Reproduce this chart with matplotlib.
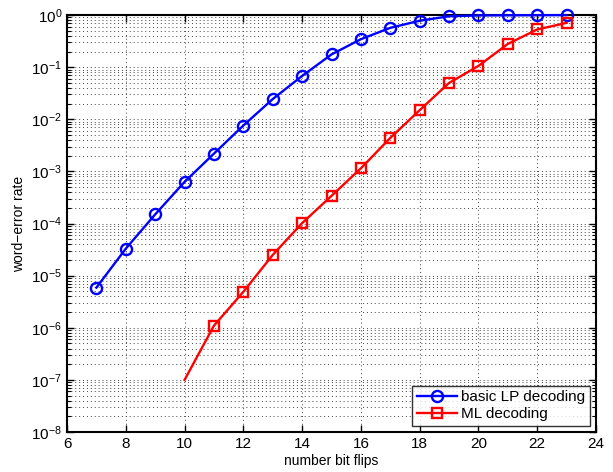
import matplotlib
matplotlib.use("Agg")
import matplotlib.pyplot as plt
from matplotlib.ticker import LogLocator, LogFormatterMathtext, NullFormatter, MultipleLocator

plt.rcParams['font.family'] = ['Liberation Sans', 'DejaVu Sans']
plt.rcParams['mathtext.fontset'] = 'custom'
plt.rcParams['mathtext.rm'] = 'Liberation Sans'
plt.rcParams['mathtext.it'] = 'Liberation Sans'
plt.rcParams['mathtext.default'] = 'regular'

# Word-error rate versus number of bit flips
lp_flips = [7, 8, 9, 10, 11, 12, 13, 14, 15, 16, 17, 18, 19, 20, 21, 22, 23]
lp_wer = [5.9e-6, 3.3e-5, 1.5e-4, 6.3e-4, 2.2e-3, 7.6e-3, 0.0245, 0.068, 0.176,
          0.345, 0.57, 0.78, 0.95, 0.985, 0.99, 0.995, 1.0]

ml_flips = [10, 11, 12, 13, 14, 15, 16, 17, 18, 19, 20, 21, 22, 23]
ml_wer = [1.0e-7, 1.1e-6, 4.9e-6, 2.5e-5, 1.02e-4, 3.4e-4, 1.15e-3, 4.4e-3,
          0.015, 0.050, 0.106, 0.28, 0.53, 0.71]

fig = plt.figure(figsize=(6.13, 4.72), dpi=100)
ax = fig.add_axes([0.1093, 0.0847, 0.8630, 0.8833])

ax.semilogy(lp_flips, lp_wer, color='#0000ff', lw=1.7, marker='o', ms=8,
            mfc='none', mec='#0000ff', mew=1.7, label='basic LP decoding',
            clip_on=False, zorder=5)
ax.semilogy(ml_flips, ml_wer, color='#ff0000', lw=1.7, marker='s', ms=7,
            mfc='none', mec='#ff0000', mew=1.7, markevery=list(range(1, len(ml_flips))),
            label='ML decoding', clip_on=False, zorder=5)

ax.set_xlim(6, 24)
ax.set_ylim(1e-8, 1)
ax.xaxis.set_major_locator(MultipleLocator(2))
ax.yaxis.set_major_locator(LogLocator(base=10, numticks=20))
ax.yaxis.set_minor_locator(LogLocator(base=10, subs=range(2, 10), numticks=20))
ax.yaxis.set_major_formatter(LogFormatterMathtext())
ax.yaxis.set_minor_formatter(NullFormatter())

ax.grid(True, which='major', axis='x', color='#444444', linestyle=(0, (1, 3)), lw=0.7)
ax.grid(True, which='both', axis='y', color='#444444', linestyle=(0, (1, 3)), lw=0.7)

ax.tick_params(which='both', direction='in', top=True, right=True, labelsize=11)
ax.tick_params(which='major', length=5, width=1)
ax.tick_params(which='minor', length=3, width=0.8)
for s in ax.spines.values():
    s.set_linewidth(1.5)

ax.set_xlabel('number bit flips', fontsize=10, labelpad=2)
ax.set_ylabel('word\u2212error rate', fontsize=10, labelpad=4)

leg = ax.legend(loc='lower right', fontsize=11, frameon=True, fancybox=False,
                edgecolor='black', borderpad=0.3, handlelength=2.6, labelspacing=0.2,
                handletextpad=0.3, borderaxespad=0.4)
leg.get_frame().set_linewidth(1.0)
leg.set_zorder(10)

fig.savefig('out.png', dpi=100)
